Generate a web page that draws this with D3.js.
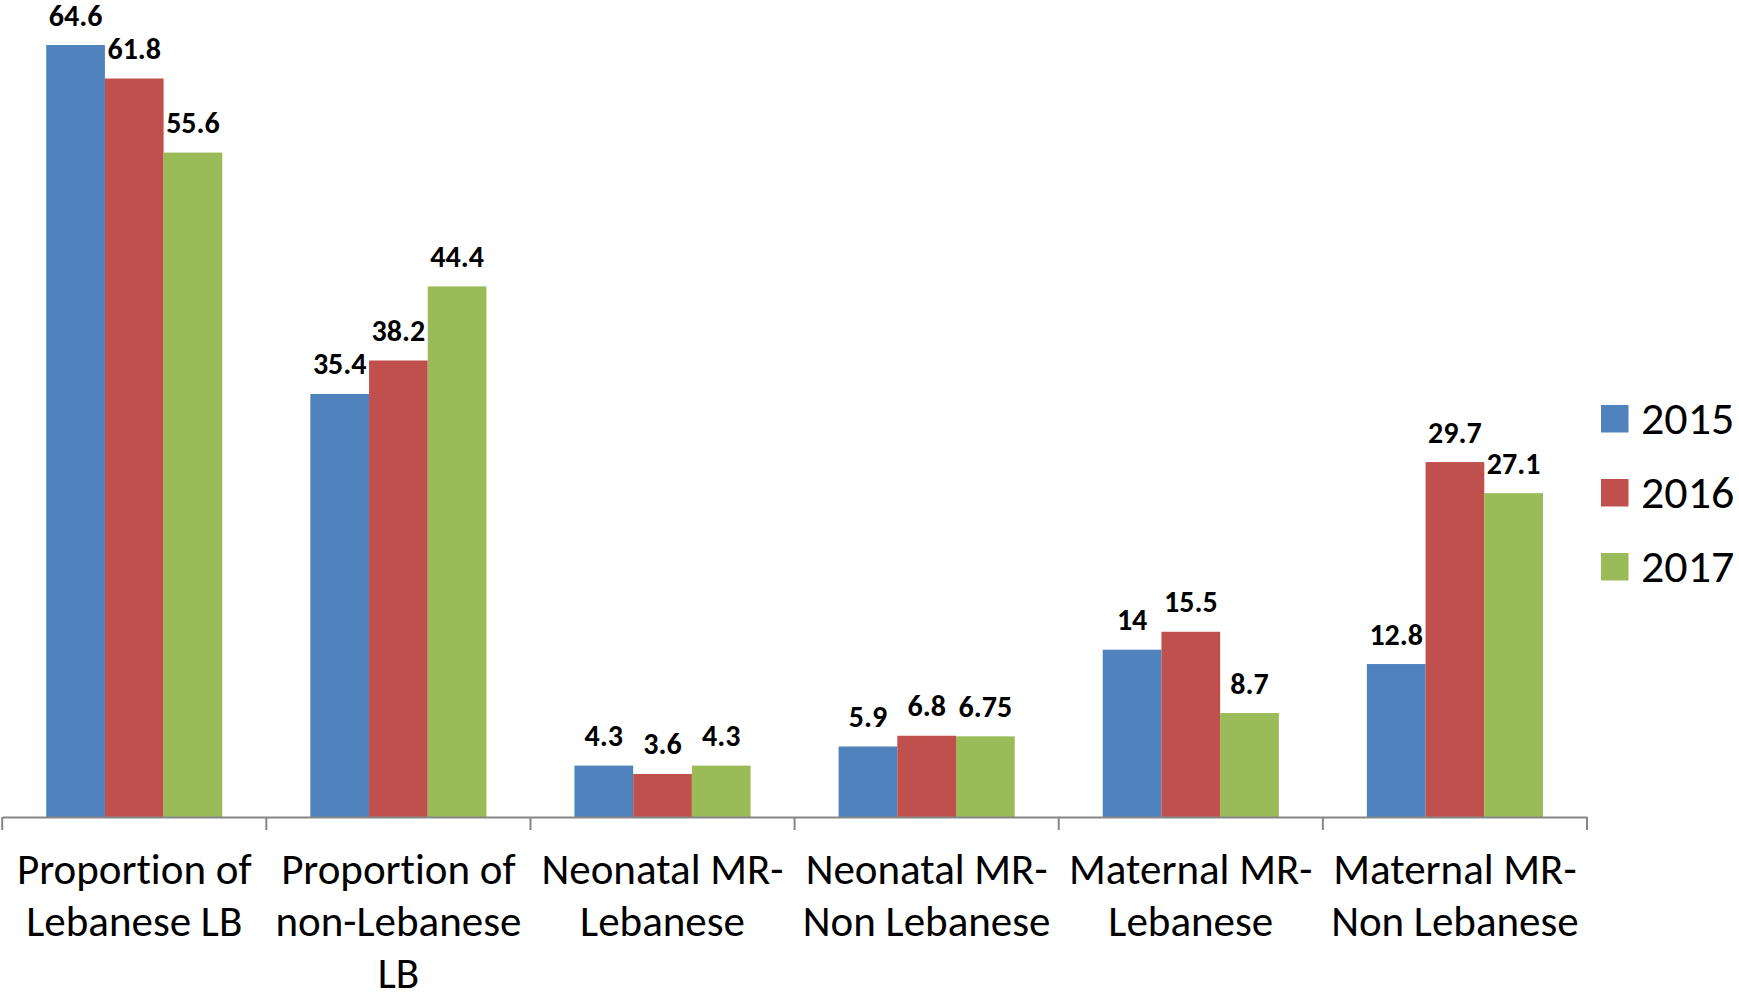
<!DOCTYPE html>
<html>
<head>
<meta charset="utf-8">
<script src="https://cdn.jsdelivr.net/npm/d3@7"></script>
<style>
  html, body { margin: 0; padding: 0; background: #fff; }
  svg { display: block; }
  text { font-family: Carlito, Lato, "Open Sans", sans-serif; font-variant-ligatures: none; font-feature-settings: "liga" 0, "clig" 0; }
</style>
</head>
<body>
<svg id="chart" width="1739" height="994"></svg>
<script>
const categories = [
  "Proportion of Lebanese LB",
  "Proportion of non-Lebanese LB",
  "Neonatal MR-Lebanese",
  "Neonatal MR-Non Lebanese",
  "Maternal MR-Lebanese",
  "Maternal MR-Non Lebanese"
];
const categoryLines = [
  ["Proportion of", "Lebanese LB"],
  ["Proportion of", "non-Lebanese", "LB"],
  ["Neonatal MR-", "Lebanese"],
  ["Neonatal MR-", "Non Lebanese"],
  ["Maternal MR-", "Lebanese"],
  ["Maternal MR-", "Non Lebanese"]
];
const years = ["2015", "2016", "2017"];
const values2015 = [64.6, 35.4, 4.3, 5.9, 14, 12.8];
const values2016 = [61.8, 38.2, 3.6, 6.8, 15.5, 29.7];
const values2017 = [55.6, 44.4, 4.3, 6.75, 8.7, 27.1];
const valueLabels2017 = ["55.6", "44.4", "4.3", "6.75", "8.7", "27.1"];
const colors = ["#4F81BD", "#C0504D", "#9BBB59"];

const series = [values2015, values2016, values2017];
const labelText = [
  values2015.map(String),
  values2016.map(String),
  valueLabels2017
];

const svg = d3.select("#chart");
const baseY = 817;
const x = d3.scaleBand().domain(categories).range([2.2, 1587]).paddingInner(0).paddingOuter(0);
const x1 = d3.scaleBand().domain(years).range([0, x.bandwidth()]).paddingInner(0).paddingOuter(0.75);
const y = d3.scaleLinear().domain([0, 70]).range([baseY, baseY - 70 * 11.95]);

const rows = categories.map((c, i) => ({ cat: c, i, vals: years.map((yr, k) => ({ yr, k, v: series[k][i], t: labelText[k][i] })) }));

const g = svg.append("g");
const groups = g.selectAll("g.cat").data(rows).join("g")
  .attr("class", "cat")
  .attr("transform", d => `translate(${x(d.cat)},0)`);

groups.selectAll("rect").data(d => d.vals).join("rect")
  .attr("x", d => x1(d.yr))
  .attr("y", d => y(d.v))
  .attr("width", x1.bandwidth())
  .attr("height", d => baseY - y(d.v))
  .attr("fill", d => colors[d.k]);

groups.selectAll("text.val").data(d => d.vals).join("text")
  .attr("class", "val")
  .attr("x", d => x1(d.yr) + x1.bandwidth() / 2)
  .attr("y", d => y(d.v) - 19.5)
  .attr("text-anchor", "middle")
  .attr("font-size", 30)
  .attr("font-weight", "bold")
  .attr("fill", "#000")
  .text(d => d.t);

// axis
const axis = d3.axisBottom(x).tickSize(0).tickFormat("");
const axG = svg.append("g").attr("transform", `translate(0,${baseY})`).call(axis);
axG.select(".domain").attr("stroke", "#868686").attr("stroke-width", 2);

const bounds = categories.map(c => x(c)).concat([x.range()[1]]);
svg.append("g").selectAll("line").data(bounds).join("line")
  .attr("x1", d => d).attr("x2", d => d)
  .attr("y1", baseY).attr("y2", baseY + 13)
  .attr("stroke", "#868686").attr("stroke-width", 2);

const catLabels = svg.append("g").selectAll("text").data(rows).join("text")
  .attr("x", d => x(d.cat) + x.bandwidth() / 2)
  .attr("text-anchor", "middle")
  .attr("font-size", 43)
  .attr("fill", "#000");
catLabels.selectAll("tspan").data(d => categoryLines[d.i]).join("tspan")
  .attr("x", function() { return d3.select(this.parentNode).attr("x"); })
  .attr("y", (d, j) => 884 + j * 52)
  .text(d => d);

// legend
const legend = svg.append("g").selectAll("g").data(years).join("g")
  .attr("transform", (d, i) => `translate(1601,${405 + i * 74})`);
legend.append("rect").attr("width", 27.5).attr("height", 27.5).attr("fill", (d, i) => colors[i]);
legend.append("text").attr("x", 40).attr("y", 28.5).attr("font-size", 46).attr("fill", "#000").text(d => d);
</script>
</body>
</html>
